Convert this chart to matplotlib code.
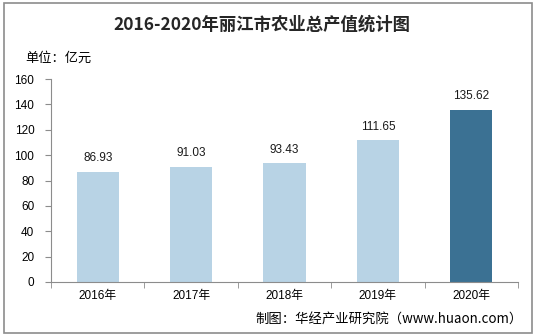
import matplotlib
matplotlib.use("Agg")
import matplotlib.pyplot as plt
import numpy as np
from matplotlib.patches import Rectangle

plt.rcParams['font.family'] = ['Liberation Sans', 'Noto Sans CJK SC', 'DejaVu Sans']

categories = ['2016年', '2017年', '2018年', '2019年', '2020年']
values = [86.93, 91.03, 93.43, 111.65, 135.62]
bar_colors = ['#B8D3E5', '#B8D3E5', '#B8D3E5', '#B8D3E5', '#3B7193']
yticks = [0, 20, 40, 60, 80, 100, 120, 140, 160]

fig = plt.figure(figsize=(5.37, 3.36), dpi=100)
fig.patch.set_facecolor('white')
fig.patches.append(Rectangle((4/537, 3/336), 528/537, 330/336, transform=fig.transFigure,
                             fill=False, edgecolor='#8C8C8C', linewidth=1.2))

ax = fig.add_axes([51/537, 1-282/336, 467/537, 203/336])
x = np.arange(len(categories))
ax.bar(x, values, width=0.45, color=bar_colors)
for xi, v in zip(x, values):
    ax.text(xi, v + 6, f'{v:.2f}', ha='center', va='bottom', fontsize=8.5, color='#1a1a1a')

ax.set_xlim(-0.5, len(categories) - 0.5)
ax.set_ylim(0, 160)
ax.set_yticks(yticks)
ax.set_yticklabels([str(t) for t in yticks], fontsize=8.5)
ax.set_xticks(x)
ax.set_xticklabels(categories, fontsize=8.5)
ax.tick_params(axis='x', length=0, pad=6)
ax.set_xticks(np.arange(-0.5, len(categories)), minor=True)
ax.tick_params(axis='x', which='minor', length=4, color='#8C8C8C')
ax.tick_params(axis='y', length=4, color='#8C8C8C', pad=8)
for s in ['top', 'right']:
    ax.spines[s].set_visible(False)
for s in ['left', 'bottom']:
    ax.spines[s].set_color('#8C8C8C')

fig.text(262/537, 1-25/336, '2016-2020年丽江市农业总产值统计图', ha='center', va='center',
         fontsize=12.5, fontweight='bold', family=['Noto Sans CJK SC', 'DejaVu Sans'], color='#262626')
fig.text(25/537, 1-58/336, '单位：亿元', ha='left', va='center', fontsize=9.5,
         family=['Noto Sans CJK SC', 'DejaVu Sans'])
fig.text(523/537, 1-320/336, '制图：华经产业研究院（www.huaon.com）', ha='right', va='center',
         fontsize=9.6, family=['Noto Sans CJK SC', 'DejaVu Sans'])

fig.savefig('out.png', dpi=100)
